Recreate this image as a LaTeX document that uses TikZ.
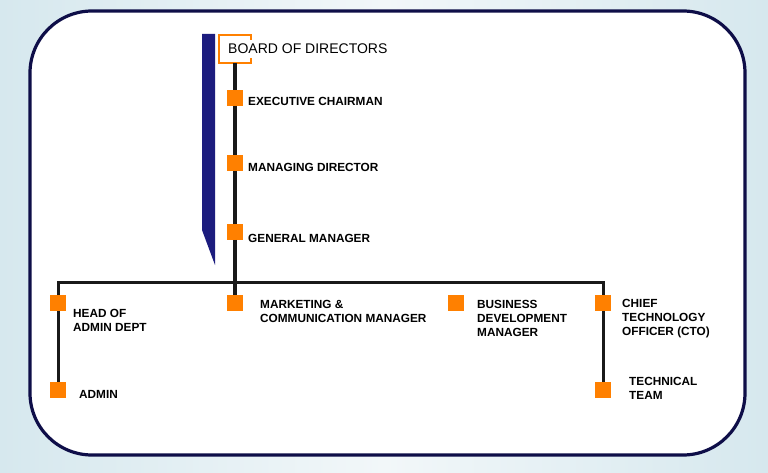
\documentclass[tikz,border=0pt]{standalone}
\usepackage{fontspec}
\setmainfont{Liberation Sans}
\usepackage{tikz}

\definecolor{orgbox}{HTML}{FF8000}
\definecolor{navybar}{HTML}{1C1C7E}
\definecolor{frameline}{HTML}{0E0E48}
\definecolor{bgleft}{HTML}{D6E8EE}
\definecolor{bgmid}{HTML}{F2F7F9}

\begin{document}
\begin{tikzpicture}[x=1pt, y=-1pt,
    sq/.style={fill=orgbox, inner sep=0pt, minimum size=15.5pt},
    lbl/.style={anchor=base west, inner sep=0pt, align=left,
      font=\bfseries\fontsize{11.8}{14}\selectfont},
    link/.style={draw=black!90, line width=3pt}]

    \useasboundingbox (0, 0) rectangle (768, 473);
    \shade [left color=bgleft, right color=bgleft, middle color=bgmid] (0, 0) rectangle (768, 473);
    \draw [frameline, line width=3.2pt, fill=white, rounded corners=62pt] (30, 11) rectangle (745, 455);

    % blue bar and board bracket
    \fill [navybar] (202, 34) -- (215, 34) -- (215, 265) -- (202, 230) -- cycle;
    \draw [orgbox, line width=2.2pt] (251, 40) -- (251, 35) -- (219, 35) -- (219, 63) -- (251, 63) -- (251, 58);
    \node (bd) [anchor=base west, inner sep=0pt, font=\fontsize{14}{16}\selectfont] at (228, 54) {BOARD OF DIRECTORS};
    \coordinate (t) at (235, 63);

    \node (b) [sq] at (235, 98) {};
    \node (c) [sq] at (235, 163) {};
    \node (d) [sq] at (235, 232) {};
    \node (e) [sq] at (58, 303) {};
    \node (f) [sq] at (235, 303) {};
    \node (g) [sq] at (456, 303) {};
    \node (h) [sq] at (603, 303) {};
    \node (i) [sq] at (58, 390) {};
    \node (j) [sq] at (603, 390) {};
    \coordinate (hl) at (58, 282);
    \coordinate (hr) at (603, 282);

    % multi-line labels sit on their last baseline
    \node (lb) [lbl] at (248, 106) {EXECUTIVE CHAIRMAN};
    \node (lc) [lbl] at (248, 172) {MANAGING DIRECTOR};
    \node (ld) [lbl] at (248, 242) {GENERAL MANAGER};
    \node (le) [lbl] at (73, 331) {HEAD OF\\ADMIN DEPT};
    \node (lf) [lbl] at (260, 322) {MARKETING \&\\COMMUNICATION MANAGER};
    \node (lg) [lbl] at (477, 336) {BUSINESS\\DEVELOPMENT\\MANAGER};
    \node (lh) [lbl] at (622, 335) {CHIEF\\TECHNOLOGY\\OFFICER (CTO)};
    \node (li) [lbl] at (79, 398) {ADMIN};
    \node (lj) [lbl] at (629, 399) {TECHNICAL\\TEAM};

    \draw [link, line width=4pt] (t) to (b);
    \draw [link, line width=4pt] (b) to (c);
    \draw [link, line width=4pt] (c) to (d);
    \draw [link, line width=4pt] (d) to (f);
    \draw [link] (e) -- (hl) -- (hr) -- (h);
    \draw [link] (e) to (i);
    \draw [link] (h) to (j);

  \end{tikzpicture}
\end{document}
